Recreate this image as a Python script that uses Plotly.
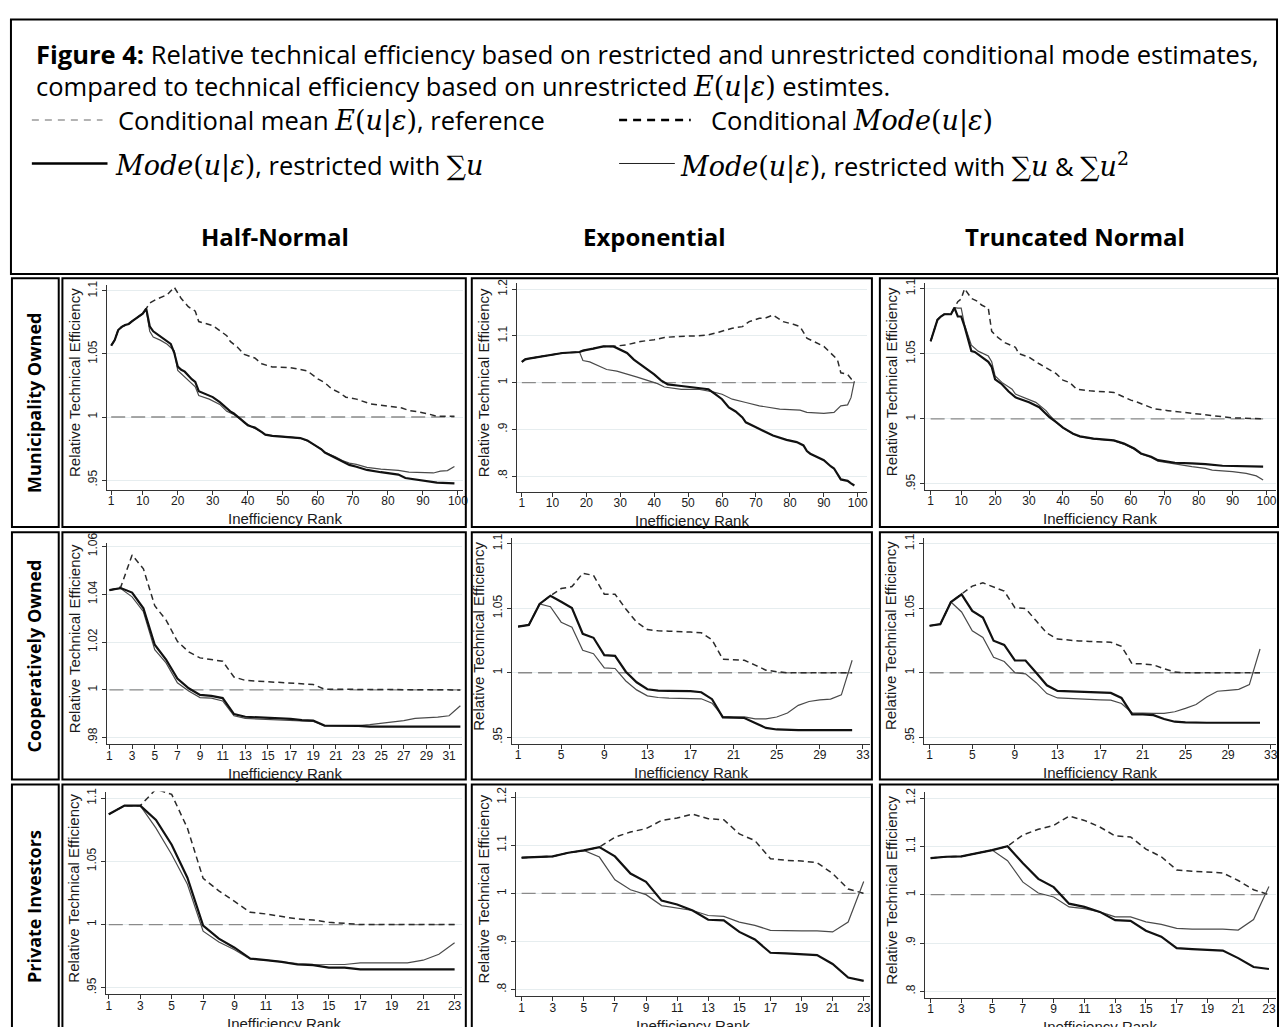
import plotly.graph_objects as go

W, H = 1285, 1027

# ---------------------------------------------------------------- data
# Municipality Owned (99 firms) - vertices (rank, value)
mun_hn_common_rank = [1, 2, 3, 4, 5, 6, 7, 8, 9, 10]
mun_hn_common = [1.0567, 1.061, 1.069, 1.0715, 1.073, 1.0738, 1.076, 1.078, 1.080, 1.082]
mun_hn_r1_rank = [11, 12, 13, 14, 16, 17, 18, 19, 20, 21, 22, 24, 25, 26, 28, 30, 32, 33, 34, 35, 36, 38, 39, 40, 41, 42, 44, 45, 47, 52, 55, 57, 60, 61, 62, 65, 67, 69, 71, 74, 78, 83, 85, 89, 94, 99]
mun_hn_r1 = [1.086, 1.072, 1.068, 1.066, 1.0625, 1.0605, 1.058, 1.051, 1.040, 1.0375, 1.036, 1.030, 1.0278, 1.0205, 1.0182, 1.0158, 1.0118, 1.0095, 1.0065, 1.0045, 1.0028, 0.9985, 0.9958, 0.9935, 0.9925, 0.9916, 0.988, 0.986, 0.985, 0.9843, 0.9833, 0.9814, 0.9762, 0.9744, 0.9718, 0.9678, 0.9645, 0.962, 0.9605, 0.958, 0.9562, 0.9543, 0.9516, 0.950, 0.9479, 0.9473]
mun_hn_r2_rank = [11, 12, 13, 15, 17, 19, 20, 21, 23, 25, 26, 29, 32, 34, 36, 38, 39, 41, 42, 44, 45, 47, 52, 55, 57, 60, 61, 62, 65, 67, 69, 71, 74, 78, 83, 86, 90, 93, 95, 97, 99]
mun_hn_r2 = [1.085, 1.068, 1.0635, 1.061, 1.0577, 1.0525, 1.037, 1.0345, 1.0287, 1.024, 1.017, 1.0142, 1.0100, 1.0045, 1.002, 0.9982, 0.9955, 0.9924, 0.9914, 0.988, 0.986, 0.985, 0.9842, 0.9831, 0.981, 0.9762, 0.9746, 0.972, 0.9685, 0.9655, 0.9634, 0.9624, 0.9601, 0.9586, 0.9576, 0.9562, 0.9556, 0.9556, 0.957, 0.9575, 0.9608]
mun_hn_mode_rank = [11, 12, 14, 17, 19, 21, 23, 25, 26, 30, 32, 34, 35, 37, 39, 42, 44, 47, 52, 57, 60, 62, 64, 66, 68, 71, 75, 80, 84, 86, 89, 92, 94, 99]
mun_hn_mode = [1.086, 1.0905, 1.0935, 1.097, 1.103, 1.094, 1.0875, 1.084, 1.0757, 1.0725, 1.0685, 1.0645, 1.060, 1.0555, 1.0497, 1.0468, 1.0422, 1.0397, 1.0392, 1.0366, 1.0302, 1.0272, 1.0222, 1.0196, 1.0157, 1.0142, 1.0104, 1.0086, 1.0072, 1.0052, 1.004, 1.0021, 1.0005, 1.0005]

mun_ex_common_rank = [1, 2, 3, 6, 10, 13, 18]
mun_ex_common = [1.0445, 1.050, 1.0516, 1.055, 1.060, 1.0636, 1.0657]
mun_ex_r1_rank = [19, 22, 25, 28, 30, 32, 34, 36, 38, 40, 42, 44, 48, 53, 56, 58, 60, 62, 64, 66, 67, 70, 73, 75, 79, 82, 84, 85, 86, 88, 90, 92, 93, 95, 97, 98, 99]
mun_ex_r1 = [1.0686, 1.0728, 1.0777, 1.0777, 1.0707, 1.0636, 1.0495, 1.0389, 1.0283, 1.0177, 1.005, 0.9965, 0.9929, 0.9894, 0.9859, 0.9753, 0.9647, 0.947, 0.9385, 0.9258, 0.9152, 0.9046, 0.894, 0.8869, 0.8777, 0.8728, 0.8657, 0.8537, 0.848, 0.841, 0.834, 0.8212, 0.8163, 0.793, 0.790, 0.7845, 0.780]
mun_ex_r2_rank = [19, 21, 23, 26, 29, 32, 35, 38, 41, 43, 48, 53, 57, 60, 63, 67, 71, 77, 83, 85, 90, 93, 94, 95, 97, 98, 99]
mun_ex_r2 = [1.0473, 1.0445, 1.0375, 1.0283, 1.0247, 1.019, 1.012, 1.005, 0.9979, 0.9908, 0.9859, 0.9859, 0.981, 0.9753, 0.9647, 0.9576, 0.9505, 0.9435, 0.9413, 0.9364, 0.9343, 0.9364, 0.9435, 0.9505, 0.9526, 0.968, 1.0035]
mun_ex_mode_rank = [19, 22, 25, 28, 32, 36, 40, 43, 47, 53, 56, 59, 63, 66, 68, 71, 73, 75, 78, 81, 83, 85, 87, 90, 92, 94, 95, 97, 99]
mun_ex_mode = [1.0686, 1.0728, 1.0777, 1.0777, 1.0813, 1.0883, 1.0919, 1.0968, 1.099, 1.1004, 1.1025, 1.108, 1.1166, 1.120, 1.1307, 1.1378, 1.139, 1.1449, 1.1307, 1.125, 1.120, 1.0954, 1.0883, 1.0777, 1.0636, 1.0495, 1.0212, 1.0177, 1.0]

mun_tn_common_rank = [1, 2, 3, 4, 5, 7, 8]
mun_tn_common = [1.0596, 1.067, 1.076, 1.0786, 1.0803, 1.0803, 1.0854]
mun_tn_r1_rank = [9, 10, 11, 13, 14, 16, 18, 19, 20, 22, 24, 26, 28, 30, 33, 35, 36, 38, 40, 43, 45, 49, 55, 58, 61, 63, 66, 68, 73, 78, 82, 87, 92, 99]
mun_tn_r1 = [1.0786, 1.0786, 1.071, 1.052, 1.0514, 1.0474, 1.0438, 1.0398, 1.0304, 1.0266, 1.021, 1.0165, 1.0144, 1.0127, 1.0089, 1.0038, 1.0013, 0.9975, 0.9932, 0.9886, 0.9866, 0.9848, 0.9835, 0.981, 0.9772, 0.9734, 0.9709, 0.9683, 0.9663, 0.9658, 0.9653, 0.964, 0.9638, 0.9633]
mun_tn_r2_rank = [9, 10, 11, 13, 15, 18, 19, 20, 22, 25, 26, 29, 32, 35, 36, 38, 40, 43, 45, 49, 55, 58, 61, 63, 66, 68, 73, 78, 82, 84, 90, 94, 97, 99]
mun_tn_r2 = [1.085, 1.085, 1.0722, 1.0565, 1.052, 1.0482, 1.0438, 1.033, 1.028, 1.0228, 1.019, 1.016, 1.0127, 1.0063, 1.003, 0.9975, 0.993, 0.9884, 0.9864, 0.9846, 0.9832, 0.9806, 0.9767, 0.973, 0.9703, 0.9676, 0.9653, 0.9633, 0.962, 0.9607, 0.9595, 0.9582, 0.9562, 0.9531]
mun_tn_mode_rank = [9, 10, 11, 13, 15, 16, 18, 19, 21, 23, 26, 27, 30, 33, 35, 38, 40, 42, 44, 48, 55, 57, 60, 62, 64, 67, 71, 75, 78, 82, 86, 90, 99]
mun_tn_mode = [1.090, 1.092, 1.100, 1.0925, 1.090, 1.0874, 1.0849, 1.0672, 1.0621, 1.0583, 1.055, 1.050, 1.0474, 1.0423, 1.0393, 1.0347, 1.0297, 1.0279, 1.0228, 1.0215, 1.0203, 1.0177, 1.0144, 1.0127, 1.0109, 1.0076, 1.0063, 1.0051, 1.0043, 1.0033, 1.0018, 1.0008, 1.0]

# Cooperatively Owned (32 firms), ranks 1..32
coop_rank = list(range(1, 33))
coop_hn_r1 = [1.0417, 1.0426, 1.0407, 1.0341, 1.0189, 1.0127, 1.0048, 1.0007, 0.9979, 0.9975, 0.9966, 0.9899, 0.9888, 0.9886, 0.9883, 0.9881, 0.9879, 0.9874, 0.9872, 0.9851, 0.9851, 0.9851, 0.985, 0.9847, 0.9847, 0.9847, 0.9847, 0.9847, 0.9847, 0.9847, 0.9847, 0.9847]
coop_hn_r2 = [1.0417, 1.0424, 1.0389, 1.0327, 1.0168, 1.0113, 1.003, 0.9996, 0.9968, 0.9966, 0.9954, 0.9892, 0.9881, 0.9879, 0.9876, 0.9874, 0.9872, 0.9869, 0.9868, 0.9851, 0.9851, 0.9851, 0.9851, 0.9855, 0.9861, 0.9865, 0.9872, 0.9881, 0.9883, 0.9886, 0.9892, 0.9934]
coop_hn_mode = [1.0417, 1.043, 1.0564, 1.0506, 1.0352, 1.0292, 1.0203, 1.0159, 1.0134, 1.0127, 1.012, 1.0054, 1.004, 1.0037, 1.0034, 1.0033, 1.003, 1.0026, 1.0023, 1.0003, 1.0003, 1.0003, 1.0003, 1.0, 1.0, 1.0, 1.0, 1.0, 1.0, 1.0, 1.0, 1.0]
coop_ex_r1 = [1.0358, 1.0371, 1.0533, 1.0597, 1.055, 1.0502, 1.0302, 1.0271, 1.0136, 1.0131, 1.0008, 0.9926, 0.9872, 0.9862, 0.986, 0.986, 0.9858, 0.9849, 0.9795, 0.9654, 0.9649, 0.9649, 0.9611, 0.9572, 0.956, 0.9555, 0.9555, 0.9555, 0.9555, 0.9555, 0.9555, 0.9555]
coop_ex_r2 = [1.0358, 1.0371, 1.0533, 1.0512, 1.0392, 1.0353, 1.0174, 1.0148, 1.0038, 1.0033, 0.9936, 0.9867, 0.9821, 0.9808, 0.9803, 0.9803, 0.9802, 0.9798, 0.9764, 0.9662, 0.9657, 0.9657, 0.9642, 0.9642, 0.9657, 0.9688, 0.9747, 0.9777, 0.979, 0.9795, 0.9828, 1.0097]
coop_ex_mode = [1.0358, 1.0371, 1.0533, 1.0597, 1.0653, 1.0668, 1.0771, 1.0755, 1.0609, 1.0609, 1.0494, 1.0392, 1.0335, 1.0325, 1.0322, 1.032, 1.0315, 1.031, 1.0256, 1.0105, 1.0102, 1.0097, 1.0059, 1.002, 1.0008, 1.0, 1.0, 1.0, 1.0, 1.0, 1.0, 1.0]
coop_tn_r1 = [1.0364, 1.0376, 1.0548, 1.0607, 1.0479, 1.0428, 1.0248, 1.0215, 1.0095, 1.0095, 1.0, 0.9903, 0.9859, 0.9857, 0.9852, 0.985, 0.9846, 0.9844, 0.9805, 0.9677, 0.9677, 0.9672, 0.9642, 0.9621, 0.9616, 0.9613, 0.9613, 0.9613, 0.9613, 0.9613, 0.9613, 0.9613]
coop_tn_r2 = [1.0364, 1.0376, 1.0548, 1.0471, 1.0325, 1.0274, 1.012, 1.0087, 1.0, 0.9992, 0.9923, 0.9839, 0.9805, 0.98, 0.9795, 0.9793, 0.979, 0.9788, 0.9762, 0.969, 0.9685, 0.9685, 0.9685, 0.9698, 0.9724, 0.9754, 0.9813, 0.9857, 0.9864, 0.9872, 0.9908, 1.0184]
coop_tn_mode = [1.0364, 1.0376, 1.0548, 1.0607, 1.0671, 1.0696, 1.0666, 1.0632, 1.0504, 1.0497, 1.0402, 1.0307, 1.0261, 1.0253, 1.0246, 1.0243, 1.0241, 1.0236, 1.0205, 1.0069, 1.0069, 1.0061, 1.0031, 1.0005, 1.0, 1.0, 1.0, 1.0, 1.0, 1.0, 1.0, 1.0]

# Private Investors (23 firms), ranks 1..23
priv_rank = list(range(1, 24))
priv_hn_r1 = [1.0873, 1.0941, 1.0941, 1.0828, 1.0632, 1.0371, 0.9992, 0.9888, 0.9817, 0.9731, 0.9718, 0.9705, 0.9684, 0.9679, 0.966, 0.966, 0.9645, 0.9645, 0.9645, 0.9645, 0.9645, 0.9645, 0.9645]
priv_hn_r2 = [1.0873, 1.0941, 1.0941, 1.0763, 1.0554, 1.0319, 0.9948, 0.9862, 0.9801, 0.9726, 0.9718, 0.9705, 0.9692, 0.9686, 0.9684, 0.9684, 0.9697, 0.9697, 0.9697, 0.9697, 0.9718, 0.9765, 0.9856]
priv_hn_mode = [1.0873, 1.0941, 1.0941, 1.1071, 1.103, 1.0763, 1.0366, 1.0267, 1.0183, 1.0097, 1.0084, 1.0063, 1.0044, 1.0037, 1.0018, 1.001, 1.0, 1.0, 1.0, 1.0, 1.0, 1.0, 1.0]
priv_ex_r1 = [1.0741, 1.0754, 1.0768, 1.0844, 1.0892, 1.096, 1.0768, 1.0412, 1.024, 0.9849, 0.9767, 0.9643, 0.9451, 0.9438, 0.9198, 0.904, 0.8765, 0.8752, 0.8738, 0.8717, 0.8532, 0.8251, 0.8182]
priv_ex_r2 = [1.0741, 1.0754, 1.0768, 1.0844, 1.0892, 1.0754, 1.0281, 1.0075, 0.9973, 0.9746, 0.9698, 0.9643, 0.954, 0.952, 0.9403, 0.9335, 0.9232, 0.9218, 0.9218, 0.9218, 0.9198, 0.9403, 1.0247]
priv_ex_mode = [1.0741, 1.0754, 1.0768, 1.0844, 1.0892, 1.096, 1.1166, 1.1276, 1.1344, 1.1516, 1.1564, 1.1646, 1.155, 1.153, 1.1235, 1.1097, 1.072, 1.0686, 1.0672, 1.0638, 1.0412, 1.0089, 1.0]
priv_tn_r1 = [1.0759, 1.0786, 1.0793, 1.0855, 1.0923, 1.1005, 1.065, 1.0328, 1.0157, 0.9815, 0.9747, 0.9644, 0.9474, 0.946, 0.9255, 0.9132, 0.8893, 0.8872, 0.8858, 0.8844, 0.8687, 0.8503, 0.8462]
priv_tn_r2 = [1.0759, 1.0786, 1.0793, 1.0855, 1.0923, 1.0704, 1.026, 1.0034, 0.9952, 0.9747, 0.9713, 0.9644, 0.9542, 0.9542, 0.9439, 0.9385, 0.9303, 0.9289, 0.9289, 0.9289, 0.9268, 0.9487, 1.0171]
priv_tn_mode = [1.0759, 1.0786, 1.0793, 1.0855, 1.0923, 1.1005, 1.1238, 1.1354, 1.1436, 1.1627, 1.1538, 1.1402, 1.1217, 1.1197, 1.0944, 1.0786, 1.0513, 1.0485, 1.0465, 1.0451, 1.0294, 1.0103, 1.0]

ref_level = 1.0  # conditional mean E(u|e) relative to itself

# tick labels
x_ticks_mun = [1, 10, 20, 30, 40, 50, 60, 70, 80, 90, 100]
x_ticks_coop_hn = [1, 3, 5, 7, 9, 11, 13, 15, 17, 19, 21, 23, 25, 27, 29, 31]
x_ticks_coop = [1, 5, 9, 13, 17, 21, 25, 29, 33]
x_ticks_priv = [1, 3, 5, 7, 9, 11, 13, 15, 17, 19, 21, 23]
y_ticks_a = [0.95, 1.0, 1.05, 1.1]
y_text_a = [".95", "1", "1.05", "1.1"]
y_ticks_b = [0.8, 0.9, 1.0, 1.1, 1.2]
y_text_b = [".8", ".9", "1", "1.1", "1.2"]
y_ticks_c = [0.98, 1.0, 1.02, 1.04, 1.06]
y_text_c = [".98", "1", "1.02", "1.04", "1.06"]

row_labels = ["Municipality Owned", "Cooperatively Owned", "Private Investors"]
col_labels = ["Half-Normal", "Exponential", "Truncated Normal"]
x_title = "Inefficiency Rank"
y_title = "Relative Technical Efficiency"

# series per panel (mode, restricted sum u, restricted sum u & u^2)
series = [
    dict(mode=(mun_hn_common_rank + mun_hn_mode_rank, mun_hn_common + mun_hn_mode),
         r1=(mun_hn_common_rank + mun_hn_r1_rank, mun_hn_common + mun_hn_r1),
         r2=(mun_hn_common_rank + mun_hn_r2_rank, mun_hn_common + mun_hn_r2), n=99),
    dict(mode=(mun_ex_common_rank + mun_ex_mode_rank, mun_ex_common + mun_ex_mode),
         r1=(mun_ex_common_rank + mun_ex_r1_rank, mun_ex_common + mun_ex_r1),
         r2=(mun_ex_common_rank + mun_ex_r2_rank, mun_ex_common + mun_ex_r2), n=99),
    dict(mode=(mun_tn_common_rank + mun_tn_mode_rank, mun_tn_common + mun_tn_mode),
         r1=(mun_tn_common_rank + mun_tn_r1_rank, mun_tn_common + mun_tn_r1),
         r2=(mun_tn_common_rank + mun_tn_r2_rank, mun_tn_common + mun_tn_r2), n=99),
    dict(mode=(coop_rank, coop_hn_mode), r1=(coop_rank, coop_hn_r1), r2=(coop_rank, coop_hn_r2), n=32),
    dict(mode=(coop_rank, coop_ex_mode), r1=(coop_rank, coop_ex_r1), r2=(coop_rank, coop_ex_r2), n=32),
    dict(mode=(coop_rank, coop_tn_mode), r1=(coop_rank, coop_tn_r1), r2=(coop_rank, coop_tn_r2), n=32),
    dict(mode=(priv_rank, priv_hn_mode), r1=(priv_rank, priv_hn_r1), r2=(priv_rank, priv_hn_r2), n=23),
    dict(mode=(priv_rank, priv_ex_mode), r1=(priv_rank, priv_ex_r1), r2=(priv_rank, priv_ex_r2), n=23),
    dict(mode=(priv_rank, priv_tn_mode), r1=(priv_rank, priv_tn_r1), r2=(priv_rank, priv_tn_r2), n=23),
]

# ---------------------------------------------------------------- layout (pixels)
# x0, x1, ytop, ybot, xrange, yrange, xticks, yticks, ytext
panels = [
    (106.7, 464, 278, 484.7, [-0.14, 101.4], [0.9421, 1.1045], x_ticks_mun, y_ticks_a, y_text_a),
    (518, 870, 276, 486.3, [-0.55, 102.7], [0.767, 1.2127], x_ticks_mun, y_ticks_b, y_text_b),
    (928, 1281, 275.3, 484.7, [-0.76, 102.8], [0.9454, 1.1046], x_ticks_mun, y_ticks_a, y_text_a),
    (106.7, 463, 538.3, 741.7, [0.8, 32.13], [0.9772, 1.0614], x_ticks_coop_hn, y_ticks_c, y_text_c),
    (513, 873, 533.3, 741, [0.4, 33.65], [0.9449, 1.1044], x_ticks_coop, y_ticks_a, y_text_a),
    (927.3, 1281, 533, 741, [0.47, 33.5], [0.945, 1.1045], x_ticks_coop, y_ticks_a, y_text_a),
    (105, 463, 789.3, 994, [0.79, 23.46], [0.9448, 1.1052], x_ticks_priv, y_ticks_a, y_text_a),
    (517.3, 873, 790, 996, [0.63, 23.4], [0.786, 1.21], x_ticks_priv, y_ticks_b, y_text_b),
    (928, 1281, 790, 997.3, [0.61, 23.46], [0.787, 1.212], x_ticks_priv, y_ticks_b, y_text_b),
]


def px(x):
    return x / W


def py(y):
    return 1 - y / H


fig = go.Figure()
layout = {}
annotations = []
shapes = []
AX_FAMILY = "Liberation Sans, Arial, sans-serif"
AX_FONT = dict(family=AX_FAMILY, size=12, color="#1a1a1a")

for i, (p, s) in enumerate(zip(panels, series)):
    x0, x1, yt, yb, xr, yr, xt, yt_vals, yt_text = p
    sfx = "" if i == 0 else str(i + 1)
    xa, ya = "x" + sfx, "y" + sfx
    layout["xaxis" + sfx] = dict(
        domain=[px(x0), px(x1)], range=xr, anchor=ya, tickmode="array", tickvals=xt,
        ticktext=[str(v) for v in xt], showline=True, linecolor="#333", linewidth=1,
        ticks="outside", ticklen=4, tickcolor="#333", showgrid=False, zeroline=False,
        tickfont=AX_FONT, ticklabelstandoff=-4, fixedrange=True)
    layout["yaxis" + sfx] = dict(
        domain=[py(yb), py(yt)], range=yr, anchor=xa, tickmode="array", tickvals=yt_vals,
        ticktext=yt_text, tickangle=-90, showline=True, linecolor="#333", linewidth=1,
        ticks="outside", ticklen=4, tickcolor="#333", showgrid=True, gridcolor="#e6edef",
        gridwidth=1, zeroline=False, tickfont=AX_FONT, fixedrange=True)
    n = s["n"]
    fig.add_trace(go.Scatter(x=[1, n], y=[ref_level, ref_level], xaxis=xa, yaxis=ya, mode="lines",
                             line=dict(color="#8a8a8a", width=1.3, dash="14px,6px"),
                             showlegend=False, hoverinfo="skip"))
    fig.add_trace(go.Scatter(x=s["mode"][0], y=s["mode"][1], xaxis=xa, yaxis=ya, mode="lines",
                             line=dict(color="#2b2b2b", width=1.5, dash="6px,4px"),
                             showlegend=False, hoverinfo="skip"))
    fig.add_trace(go.Scatter(x=s["r2"][0], y=s["r2"][1], xaxis=xa, yaxis=ya, mode="lines",
                             line=dict(color="#4a4a4a", width=1.2),
                             showlegend=False, hoverinfo="skip"))
    fig.add_trace(go.Scatter(x=s["r1"][0], y=s["r1"][1], xaxis=xa, yaxis=ya, mode="lines",
                             line=dict(color="#111111", width=2.2),
                             showlegend=False, hoverinfo="skip"))
    # axis titles
    annotations.append(dict(text=x_title, x=px((x0 + x1) / 2), y=py(yb + 29), xref="paper", yref="paper",
                            showarrow=False, xanchor="center", yanchor="middle",
                            font=dict(family=AX_FAMILY, size=15, color="#1a1a1a")))
    annotations.append(dict(text=y_title, x=px(x0 - 33), y=py((yt + yb) / 2 - 5), xref="paper", yref="paper",
                            showarrow=False, xanchor="center", yanchor="middle", textangle=-90,
                            font=dict(family=AX_FAMILY, size=15, color="#1a1a1a")))

# ---------------------------------------------------------------- boxes
def box(x0, y0, x1, y1, w=2):
    shapes.append(dict(type="rect", xref="paper", yref="paper", x0=px(x0), x1=px(x1), y0=py(y1), y1=py(y0),
                       line=dict(color="black", width=w), fillcolor="rgba(0,0,0,0)", layer="above"))

box(10, 9.5, 1282, 266.5)
row_y = [(271, 522), (527.5, 777), (782, 1040)]
col_x = [(61.7, 467), (473, 875), (883, 1283)]
for (ya0, ya1) in row_y:
    box(11, ya0, 58, ya1)
    for (xa0, xa1) in col_x:
        box(xa0, ya0, xa1, ya1)

# row labels
HDR = "Open Sans, Noto Sans, sans-serif"
for lab, cy in zip(row_labels, [397, 652, 905]):
    annotations.append(dict(text="<b>" + lab + "</b>", x=px(33), y=py(cy),
                            xref="paper", yref="paper", showarrow=False, textangle=-90,
                            xanchor="center", yanchor="middle", font=dict(family=HDR, size=18, color="black")))

# column titles
for lab, cx in zip(col_labels, [275, 657, 1079]):
    annotations.append(dict(text="<b>" + lab + "</b>", x=px(cx), y=py(229), xref="paper", yref="paper",
                            showarrow=False, xanchor="center", yanchor="middle",
                            font=dict(family=HDR, size=24, color="black")))


def M(s):
    return "<span style='font-family:DejaVu Serif;font-size:27px'>" + s + "</span>"


E_ue = M("<i>E</i>(<i>u</i>|<i>ε</i>)")
Mode_ue = M("<i>Mode</i>(<i>u</i>|<i>ε</i>)")
sum_u = M("∑<i>u</i>")
sum_u2 = M("∑<i>u</i><sup>2</sup>")

hdr_lines = [
    (33, 44, "<b>Figure 4:</b> Relative technical efficiency based on restricted and unrestricted conditional mode estimates,"),
    (33, 77, "compared to technical efficiency based on unrestricted " + E_ue + " estimtes."),
    (116, 111, "Conditional mean " + E_ue + ", reference"),
    (711, 111, "Conditional " + Mode_ue),
    (113, 157, Mode_ue + ", restricted with " + sum_u),
    (680, 157, Mode_ue + ", restricted with " + sum_u + " &amp; " + sum_u2),
]
for x, y, t in hdr_lines:
    annotations.append(dict(text=t, x=px(x), y=py(y), xref="paper", yref="paper", showarrow=False,
                            xanchor="left", yanchor="middle", align="left",
                            font=dict(family=HDR, size=25.5, color="black")))

# legend sample lines in header
def seg(x0, x1, y, color, width, dash=None):
    ln = dict(color=color, width=width)
    if dash:
        ln["dash"] = dash
    shapes.append(dict(type="line", xref="paper", yref="paper", x0=px(x0), x1=px(x1), y0=py(y), y1=py(y), line=ln))

seg(31, 102, 111, "#9a9a9a", 1.5, "7px,6px")
seg(621, 693, 111, "black", 2.5, "8px,6px")
seg(31, 107, 155, "black", 2.5)
seg(621, 677, 155, "#222", 1.0)

fig.update_layout(**layout)
fig.update_layout(width=W, height=H, margin=dict(l=0, r=0, t=0, b=0), autosize=False,
                  paper_bgcolor="white", plot_bgcolor="white", showlegend=False,
                  annotations=annotations, shapes=shapes)
fig.write_html("out.html")
